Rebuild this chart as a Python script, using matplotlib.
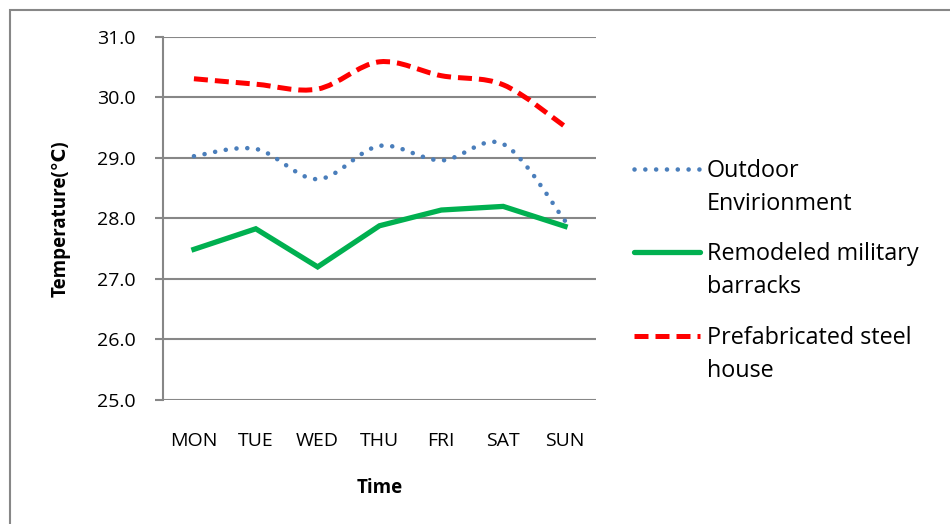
import matplotlib
matplotlib.use("Agg")
import matplotlib.pyplot as plt
from matplotlib.path import Path
from matplotlib.patches import PathPatch, Rectangle
from matplotlib.lines import Line2D

days = ["MON", "TUE", "WED", "THU", "FRI", "SAT", "SUN"]
outdoor = [29.03, 29.15, 28.65, 29.20, 28.96, 29.23, 27.96]
barracks = [27.49, 27.83, 27.20, 27.88, 28.14, 28.20, 27.87]
steel = [30.31, 30.22, 30.14, 30.59, 30.36, 30.21, 29.52]

y_ticks = [25.0, 26.0, 27.0, 28.0, 29.0, 30.0, 31.0]

FONT = ["Open Sans", "DejaVu Sans"]
plt.rcParams["font.family"] = FONT

GRID = "#878787"
BLUE = "#4a7ebb"
GREEN = "#00b050"
RED = "#ff0000"

DOT_LW = 3.3
DOTS = (0, (0.01, 2.35))
DASH_LW = 3.6
DASH = (0, (2.8, 1.4))
SOLID_LW = 3.8

W, H = 950, 524
fig = plt.figure(figsize=(W / 100, H / 100), dpi=100)
ax = fig.add_axes([163 / W, 1 - 400 / H, (596 - 163) / W, (400 - 37) / H])

x = list(range(len(days)))


def smooth_path(xs, ys):
    """Cubic Bezier path through the points (Excel-style smoothed line)."""
    pts = list(zip(xs, ys))
    n = len(pts)
    verts = [pts[0]]
    codes = [Path.MOVETO]
    for i in range(n - 1):
        p0 = pts[i - 1] if i > 0 else pts[i]
        p1 = pts[i]
        p2 = pts[i + 1]
        p3 = pts[i + 2] if i + 2 < n else pts[i + 1]
        c1 = (p1[0] + (p2[0] - p0[0]) / 6, p1[1] + (p2[1] - p0[1]) / 6)
        c2 = (p2[0] - (p3[0] - p1[0]) / 6, p2[1] - (p3[1] - p1[1]) / 6)
        verts += [c1, c2, p2]
        codes += [Path.CURVE4] * 3
    return Path(verts, codes)


# Outdoor: dotted, smoothed
ax.add_patch(PathPatch(smooth_path(x, outdoor), fill=False, edgecolor=BLUE,
                       linewidth=DOT_LW, linestyle=DOTS,
                       capstyle="round", zorder=3))
# Barracks: solid
ax.plot(x, barracks, color=GREEN, linewidth=SOLID_LW,
        solid_joinstyle="miter", zorder=3)
# Steel house: dashed, smoothed
ax.add_patch(PathPatch(smooth_path(x, steel), fill=False, edgecolor=RED,
                       linewidth=DASH_LW, linestyle=DASH,
                       capstyle="butt", zorder=3))

ax.set_xlim(-0.5, len(days) - 0.5)
ax.set_ylim(25.0, 31.0)
ax.set_yticks(y_ticks)
ax.set_yticklabels([f"{v:.1f}" for v in y_ticks])
ax.set_xticks(x)
ax.set_xticklabels(days)

for s in ["top", "right", "bottom"]:
    ax.spines[s].set_visible(False)
ax.spines["left"].set_color(GRID)
ax.spines["left"].set_linewidth(1.5)
ax.yaxis.grid(True, color=GRID, linewidth=1.5, zorder=1)
ax.set_axisbelow(True)
ax.tick_params(axis="y", length=5.8, width=1.5, color=GRID, pad=14,
               labelsize=14, labelcolor="black")
ax.tick_params(axis="x", length=0, pad=23, labelsize=14,
               labelcolor="black")

ax.set_xlabel("Time", fontsize=13.5, fontweight="bold", labelpad=20)
ax.set_ylabel("Temperature(\u2103)", fontsize=13.5, fontweight="bold",
              labelpad=19)

# Outer chart frame
fig.add_artist(Rectangle((10 / W, -0.2), 1.2, 1.2 - 10 / H,
                         transform=fig.transFigure, fill=False,
                         edgecolor=GRID, linewidth=1.5))

# Legend
legend_items = [
    (("Outdoor", "Envirionment"), 169, dict(color=BLUE, linewidth=DOT_LW,
                                            linestyle=DOTS,
                                            dash_capstyle="round")),
    (("Remodeled military", "barracks"), 252, dict(color=GREEN,
                                                   linewidth=SOLID_LW,
                                                   solid_capstyle="round")),
    (("Prefabricated steel", "house"), 336, dict(color=RED,
                                                 linewidth=DASH_LW,
                                                 linestyle=DASH)),
]
for lines, yp, style in legend_items:
    fig.add_artist(Line2D([634 / W, 700 / W], [1 - yp / H, 1 - yp / H],
                          transform=fig.transFigure, **style))
    for k, txt in enumerate(lines):
        fig.text(707 / W, 1 - (yp + 2 + 33 * k) / H, txt, fontsize=16.8,
                 va="center", ha="left", color="black")

fig.savefig("out.png", dpi=100)
